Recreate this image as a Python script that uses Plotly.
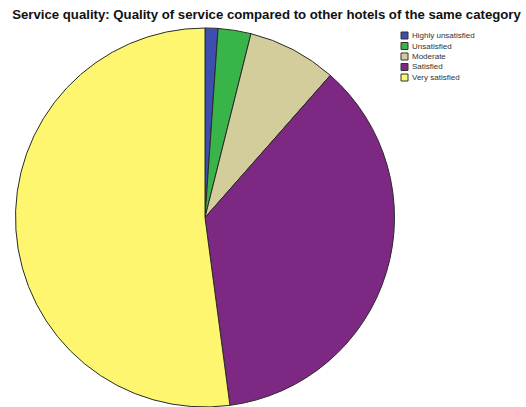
import plotly.graph_objects as go

# Survey responses (percent of respondents)
categories = ["Highly unsatisfied", "Unsatisfied", "Moderate", "Satisfied", "Very satisfied"]
shares = [1.1, 2.8, 7.6, 36.4, 52.1]
colors = ["#3c4fae", "#38b449", "#d3cd9c", "#7d2882", "#fdf66e"]

title_text = "Service quality: Quality of service compared to other hotels of the same category"

W, H = 526, 407

fig = go.Figure()
fig.add_trace(go.Pie(
    labels=categories,
    values=shares,
    sort=False,
    direction="clockwise",
    rotation=0,
    textinfo="none",
    hoverinfo="label+percent",
    marker=dict(colors=colors, line=dict(color="#2a2a2a", width=1)),
    domain=dict(x=[14 / W, 396 / W], y=[0, 1 - 28 / H]),
    showlegend=False,
))

# Compact legend: small swatches with labels on the right
sw_x0, sw_size = 401, 7
row0, row_step = 35.5, 10.5
shapes, annotations = [], []
for i, (lab, col) in enumerate(zip(categories, colors)):
    yc = row0 + i * row_step
    shapes.append(dict(
        type="rect", xref="paper", yref="paper",
        x0=sw_x0 / W, x1=(sw_x0 + sw_size) / W,
        y0=1 - (yc + sw_size / 2) / H, y1=1 - (yc - sw_size / 2) / H,
        fillcolor=col, line=dict(color="#333333", width=1),
    ))
    annotations.append(dict(
        text=lab, xref="paper", yref="paper",
        x=(sw_x0 + sw_size + 2) / W, y=1 - yc / H,
        xanchor="left", yanchor="middle", showarrow=False,
        font=dict(family="Liberation Sans, Arial, sans-serif", size=8, color="#333333"),
    ))

fig.update_layout(
    width=W, height=H,
    margin=dict(l=0, r=0, t=0, b=0),
    paper_bgcolor="white",
    plot_bgcolor="white",
    title=dict(
        text=title_text,
        x=266.5 / W, xanchor="center",
        y=1 - 14 / H, yanchor="middle", yref="container",
        font=dict(family="Liberation Sans, Arial, sans-serif", size=13.2, color="#111111", weight="bold"),
    ),
    shapes=shapes,
    annotations=annotations,
)

fig.write_html("out.html")
